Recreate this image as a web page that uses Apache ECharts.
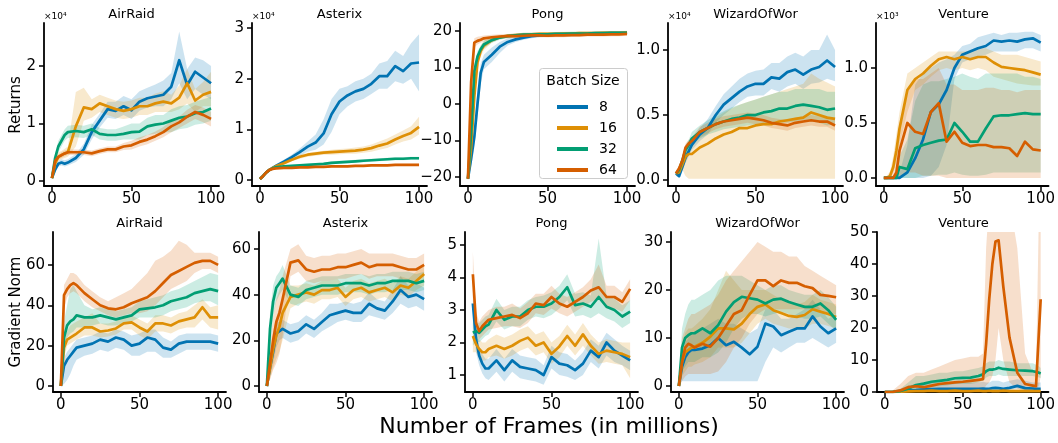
<!DOCTYPE html>
<html><head><meta charset="utf-8">
<script src="https://cdn.jsdelivr.net/npm/echarts@6/dist/echarts.min.js"></script>
<style>html,body{margin:0;padding:0;background:#fff}#c{width:1058px;height:443px}</style>
</head><body><div id="c"></div>
<script>
// ---------- shared x values (millions of frames) ----------
const X = [0,2,4,6,8,10,15,20,25,30,35,40,45,50,55,60,65,70,75,80,85,90,95,100];
const X_VENTURE_G = [0,5,10,15,20,25,30,35,40,45,50,55,60,63,65,67,69,71,73,76,80,85,90,95,97,99,100];
const BATCH = ['8','16','32','64'];
const X_TICKS = [0,50,100];

// ---------- Returns: AirRaid (x1e4) ----------
const R_AirRaid_8 = [0.05,0.2,0.3,0.32,0.3,0.32,0.4,0.55,0.85,1.05,1.25,1.22,1.3,1.23,1.38,1.44,1.47,1.5,1.64,2.1,1.67,1.9,1.8,1.7];
const R_AirRaid_8_lo = [0.03,0.15,0.25,0.27,0.25,0.27,0.33,0.45,0.72,0.93,1.1,1.08,1.15,1.08,1.22,1.28,1.3,1.3,1.42,1.7,1.42,1.6,1.5,1.42];
const R_AirRaid_8_hi = [0.07,0.25,0.35,0.38,0.36,0.38,0.47,0.65,0.98,1.17,1.38,1.38,1.48,1.42,1.56,1.62,1.68,1.75,1.88,2.6,1.95,2.15,2.1,2.0];
const R_AirRaid_16 = [0.05,0.3,0.42,0.45,0.48,0.5,0.95,1.28,1.25,1.35,1.3,1.25,1.22,1.25,1.3,1.3,1.35,1.38,1.35,1.45,1.7,1.4,1.5,1.55];
const R_AirRaid_16_lo = [0.03,0.2,0.35,0.38,0.4,0.42,0.6,1.05,1.1,1.2,1.15,1.1,1.08,1.1,1.15,1.15,1.2,1.2,1.2,1.25,1.35,1.2,1.3,1.3];
const R_AirRaid_16_hi = [0.07,0.4,0.5,0.52,0.56,0.6,1.55,1.62,1.42,1.5,1.45,1.4,1.38,1.4,1.45,1.45,1.52,1.56,1.5,1.66,1.95,1.6,1.72,1.9];
const R_AirRaid_32 = [0.05,0.4,0.6,0.7,0.8,0.85,0.87,0.85,0.9,0.82,0.8,0.8,0.82,0.85,0.86,0.95,0.98,1.0,1.05,1.1,1.12,1.18,1.2,1.26];
const R_AirRaid_32_lo = [0.03,0.32,0.5,0.6,0.7,0.75,0.76,0.75,0.8,0.72,0.7,0.7,0.72,0.72,0.72,0.8,0.82,0.85,0.85,0.9,0.92,0.98,1.0,1.05];
const R_AirRaid_32_hi = [0.07,0.48,0.7,0.8,0.9,0.96,0.98,0.96,1.0,0.92,0.9,0.9,0.95,1.0,1.0,1.1,1.15,1.15,1.25,1.3,1.32,1.38,1.42,1.46];
const R_AirRaid_64 = [0.05,0.35,0.42,0.45,0.48,0.5,0.5,0.5,0.48,0.52,0.55,0.55,0.6,0.62,0.68,0.72,0.78,0.85,0.95,1.02,1.12,1.2,1.15,1.08];
const R_AirRaid_64_lo = [0.03,0.3,0.38,0.4,0.43,0.45,0.45,0.45,0.43,0.47,0.5,0.5,0.54,0.55,0.6,0.64,0.7,0.76,0.85,0.92,1.0,1.08,1.02,0.95];
const R_AirRaid_64_hi = [0.07,0.4,0.46,0.5,0.53,0.55,0.55,0.55,0.53,0.57,0.6,0.6,0.66,0.7,0.76,0.8,0.86,0.94,1.05,1.12,1.24,1.32,1.28,1.2];

// ---------- Returns: Asterix (x1e4) ----------
const R_Asterix_8 = [0.02,0.08,0.15,0.2,0.24,0.28,0.36,0.45,0.55,0.66,0.74,0.92,1.3,1.55,1.67,1.75,1.8,1.9,2.05,2.05,2.25,2.15,2.3,2.32];
const R_Asterix_8_lo = [0.01,0.06,0.12,0.17,0.21,0.25,0.32,0.4,0.48,0.56,0.6,0.7,0.95,1.3,1.45,1.55,1.6,1.7,1.8,1.8,1.95,1.9,2.0,1.75];
const R_Asterix_8_hi = [0.03,0.1,0.18,0.23,0.27,0.31,0.4,0.5,0.62,0.76,0.9,1.2,1.6,1.8,1.85,1.95,2.0,2.1,2.3,2.35,2.55,2.45,2.7,2.88];
const R_Asterix_16 = [0.02,0.08,0.15,0.2,0.24,0.27,0.33,0.4,0.46,0.5,0.52,0.54,0.55,0.56,0.57,0.58,0.6,0.63,0.68,0.72,0.8,0.87,0.93,1.05];
const R_Asterix_16_lo = [0.01,0.06,0.13,0.18,0.22,0.25,0.3,0.37,0.42,0.46,0.48,0.5,0.5,0.51,0.52,0.52,0.54,0.56,0.6,0.63,0.7,0.76,0.8,0.9];
const R_Asterix_16_hi = [0.03,0.1,0.17,0.22,0.26,0.29,0.36,0.43,0.5,0.54,0.56,0.58,0.6,0.61,0.62,0.64,0.66,0.7,0.76,0.82,0.9,0.98,1.06,1.25];
const R_Asterix_32 = [0.02,0.08,0.15,0.2,0.23,0.25,0.27,0.28,0.29,0.3,0.31,0.32,0.34,0.35,0.36,0.37,0.38,0.39,0.4,0.41,0.42,0.42,0.43,0.43];
const R_Asterix_32_lo = [0.01,0.07,0.13,0.18,0.21,0.23,0.25,0.26,0.27,0.28,0.29,0.3,0.31,0.32,0.33,0.34,0.35,0.36,0.37,0.38,0.39,0.39,0.4,0.4];
const R_Asterix_32_hi = [0.03,0.09,0.17,0.22,0.25,0.27,0.29,0.3,0.31,0.32,0.33,0.34,0.37,0.38,0.39,0.4,0.41,0.42,0.43,0.44,0.45,0.45,0.46,0.46];
const R_Asterix_64 = [0.02,0.08,0.15,0.2,0.22,0.23,0.24,0.24,0.25,0.25,0.26,0.26,0.27,0.27,0.27,0.28,0.28,0.29,0.29,0.29,0.3,0.3,0.3,0.3];
const R_Asterix_64_lo = [0.01,0.07,0.13,0.18,0.2,0.21,0.22,0.22,0.23,0.23,0.24,0.24,0.25,0.25,0.25,0.26,0.26,0.27,0.27,0.27,0.28,0.28,0.28,0.28];
const R_Asterix_64_hi = [0.03,0.09,0.17,0.22,0.24,0.25,0.26,0.26,0.27,0.27,0.28,0.28,0.29,0.29,0.29,0.3,0.3,0.31,0.31,0.31,0.32,0.32,0.32,0.32];

// ---------- Returns: Pong ----------
const R_Pong_8 = [-20.5,-15,-9,0,8.5,11.5,13.5,15.7,17,17.7,18.2,18.6,18.8,18.9,19,19,19.1,19.2,19.2,19.3,19.3,19.4,19.4,19.5];
const R_Pong_8_lo = [-21,-17,-12,-4,5.5,9.5,11.5,14,16,17,17.6,18,18.3,18.4,18.5,18.5,18.6,18.7,18.7,18.8,18.8,18.9,18.9,19];
const R_Pong_8_hi = [-20,-13,-6,4,11,13.5,15.5,17,18,18.4,18.7,19.1,19.3,19.4,19.5,19.5,19.6,19.7,19.7,19.8,19.8,19.9,19.9,20];
const R_Pong_16 = [-20.5,-12,2,11.5,14.5,16,17.5,18.3,18.7,18.9,19,19.1,19.2,19.2,19.2,19.3,19.3,19.4,19.4,19.4,19.5,19.5,19.5,19.6];
const R_Pong_16_lo = [-21,-15,-2,9.5,13,14.8,16.8,17.8,18.2,18.4,18.5,18.6,18.7,18.7,18.7,18.8,18.8,18.9,18.9,18.9,19,19,19,19.1];
const R_Pong_16_hi = [-20,-9,6,13.5,16,17.2,18.2,18.8,19.2,19.4,19.5,19.6,19.7,19.7,19.7,19.8,19.8,19.9,19.9,19.9,20,20,20,20.1];
const R_Pong_32 = [-20.5,-8,9,13,15,16.3,17.5,18.2,18.6,18.8,19,19,19.1,19.1,19.2,19.2,19.3,19.3,19.3,19.4,19.4,19.5,19.5,19.5];
const R_Pong_32_lo = [-21,-11,7,11.5,14,15.3,16.8,17.6,18.1,18.3,18.5,18.5,18.6,18.6,18.7,18.7,18.8,18.8,18.8,18.9,18.9,19,19,19];
const R_Pong_32_hi = [-20,-5,11,14.5,16,17.3,18.2,18.8,19.1,19.3,19.5,19.5,19.6,19.6,19.7,19.7,19.8,19.8,19.8,19.9,19.9,20,20,20];
const R_Pong_64 = [-20.5,6,16.8,17.3,17.6,18,18.3,18.5,18.6,18.6,18.7,18.8,18.8,18.7,18.8,18.8,18.9,18.9,19,19,19,19.1,19.1,19.2];
const R_Pong_64_lo = [-21,2,15.5,16.3,16.8,17.2,17.6,17.9,18,18.1,18.2,18.3,18.3,18.2,18.3,18.3,18.4,18.4,18.5,18.5,18.5,18.6,18.6,18.7];
const R_Pong_64_hi = [-20,10,18,18.4,18.6,18.8,19,19.1,19.2,19.2,19.3,19.3,19.3,19.2,19.3,19.3,19.4,19.4,19.5,19.5,19.5,19.6,19.6,19.7];

// ---------- Returns: WizardOfWor (x1e4) ----------
const R_Wizard_8 = [0.05,0.03,0.1,0.17,0.22,0.27,0.35,0.4,0.5,0.58,0.63,0.68,0.72,0.74,0.74,0.79,0.78,0.83,0.85,0.81,0.85,0.87,0.92,0.87];
const R_Wizard_8_lo = [0.03,0.02,0.07,0.13,0.18,0.23,0.3,0.35,0.44,0.5,0.55,0.6,0.64,0.65,0.65,0.7,0.68,0.72,0.74,0.7,0.74,0.75,0.78,0.76];
const R_Wizard_8_hi = [0.07,0.05,0.13,0.21,0.26,0.31,0.4,0.47,0.57,0.66,0.72,0.78,0.82,0.84,0.85,0.9,0.9,0.95,0.98,0.95,1.0,1.0,1.12,1.0];
const R_Wizard_16 = [0.05,0.06,0.12,0.18,0.2,0.2,0.25,0.28,0.32,0.35,0.37,0.4,0.4,0.42,0.43,0.43,0.45,0.46,0.47,0.48,0.52,0.5,0.48,0.47];
const R_Wizard_16_lo = [0.04,0.04,0.08,0.03,0.01,0.01,0.01,0.01,0.01,0.01,0.01,0.01,0.01,0.01,0.01,0.01,0.01,0.01,0.01,0.01,0.01,0.01,0.01,0.01];
const R_Wizard_16_hi = [0.06,0.08,0.16,0.26,0.3,0.32,0.38,0.42,0.48,0.52,0.55,0.58,0.6,0.62,0.64,0.66,0.68,0.7,0.72,0.74,0.82,0.78,0.75,0.72];
const R_Wizard_32 = [0.05,0.08,0.15,0.23,0.27,0.32,0.37,0.4,0.43,0.45,0.47,0.48,0.5,0.5,0.52,0.53,0.55,0.55,0.57,0.58,0.57,0.56,0.54,0.55];
const R_Wizard_32_lo = [0.04,0.06,0.12,0.19,0.23,0.27,0.32,0.35,0.37,0.39,0.4,0.41,0.42,0.42,0.43,0.43,0.44,0.44,0.45,0.46,0.45,0.44,0.42,0.43];
const R_Wizard_32_hi = [0.06,0.1,0.18,0.27,0.31,0.37,0.42,0.46,0.5,0.53,0.56,0.58,0.6,0.62,0.64,0.66,0.68,0.68,0.7,0.7,0.7,0.7,0.68,0.68];
const R_Wizard_64 = [0.05,0.09,0.15,0.25,0.28,0.3,0.37,0.4,0.43,0.45,0.46,0.47,0.48,0.47,0.46,0.44,0.43,0.42,0.44,0.45,0.46,0.45,0.45,0.42];
const R_Wizard_64_lo = [0.04,0.07,0.12,0.22,0.25,0.27,0.33,0.36,0.39,0.41,0.42,0.43,0.44,0.43,0.42,0.4,0.39,0.38,0.4,0.41,0.42,0.41,0.41,0.38];
const R_Wizard_64_hi = [0.06,0.11,0.18,0.28,0.31,0.33,0.41,0.44,0.47,0.49,0.5,0.51,0.52,0.51,0.5,0.48,0.47,0.46,0.48,0.49,0.5,0.49,0.49,0.46];

// ---------- Returns: Venture (x1e3) ----------
const R_Venture_8 = [0,0,0,0,0,0,0.05,0.18,0.35,0.6,0.67,0.8,1.0,1.12,1.15,1.18,1.2,1.25,1.24,1.25,1.24,1.26,1.27,1.23];
const R_Venture_8_lo = [0,0,0,0,0,0,0,0,0,0.02,0.1,0.3,0.9,1.05,1.08,1.1,1.12,1.15,1.15,1.15,1.15,1.18,1.18,1.15];
const R_Venture_8_hi = [0,0,0,0,0.02,0.05,0.3,0.85,0.95,1.0,1.05,1.08,1.12,1.2,1.22,1.28,1.3,1.32,1.3,1.32,1.32,1.33,1.33,1.3];
const R_Venture_16 = [0,0,0.02,0.1,0.25,0.45,0.8,0.9,0.95,1.02,1.08,1.1,1.08,1.1,1.08,1.1,1.1,1.05,1.01,1.0,0.99,0.98,0.96,0.94];
const R_Venture_16_lo = [0,0,0,0.05,0.15,0.3,0.6,0.8,0.85,0.92,0.98,1.0,0.98,1.0,0.98,1.0,0.98,0.92,0.9,0.88,0.86,0.85,0.84,0.84];
const R_Venture_16_hi = [0,0.02,0.06,0.2,0.4,0.6,0.95,1.0,1.05,1.1,1.15,1.15,1.15,1.15,1.15,1.18,1.18,1.15,1.12,1.12,1.12,1.1,1.08,1.06];
const R_Venture_32 = [0,0,0,0,0,0.1,0.08,0.27,0.3,0.32,0.34,0.35,0.5,0.42,0.33,0.33,0.45,0.56,0.57,0.57,0.58,0.59,0.58,0.58];
const R_Venture_32_lo = [0,0,0,0,0,0,0,0,0.02,0.02,0.03,0.03,0.05,0.03,0.02,0.02,0.03,0.05,0.05,0.05,0.05,0.05,0.05,0.05];
const R_Venture_32_hi = [0,0,0,0.02,0.05,0.2,0.35,0.7,0.85,0.88,0.88,0.9,0.92,0.95,0.92,0.9,0.95,0.95,0.95,0.95,0.95,0.92,0.92,0.9];
const R_Venture_64 = [0,0,0,0,0.05,0.25,0.5,0.42,0.4,0.6,0.68,0.33,0.42,0.32,0.29,0.3,0.3,0.28,0.28,0.27,0.2,0.33,0.26,0.25];
const R_Venture_64_lo = [0,0,0,0,0,0,0.05,0.05,0.02,0.02,0.02,0,0,0,0,0,0,0,0,0,0,0,0,0];
const R_Venture_64_hi = [0,0,0.02,0.1,0.3,0.5,0.8,0.9,0.9,0.95,1.0,0.85,0.85,0.8,0.8,0.8,0.82,0.82,0.8,0.8,0.78,0.8,0.8,0.8];

// ---------- Gradient Norm: AirRaid ----------
const G_AirRaid_8 = [0,10,13,15,17,19,20,21,23,22,24,23,20,21,24,23,19,18,21,22,22,22,22,21];
const G_AirRaid_8_lo = [0,1,3,6,10,13,15,16,18,17,19,18,15,15,17,17,14,14,16,18,18,18,18,17];
const G_AirRaid_8_hi = [0,14,17,19,21,23,24,25,27,26,28,27,25,26,28,28,24,22,25,26,26,26,26,25];
const G_AirRaid_16 = [0,19,23,24,25,26,29,29,27,27.5,28.5,31,31.5,29,27,31,31,30,32,33,34,39,34,34];
const G_AirRaid_16_lo = [0,14,20,21,22,23,25,25,24,24.5,25.5,28,28,25,23,27,27,26,28,29,29,33,29,28];
const G_AirRaid_16_hi = [0,24,27,30,31,32,34,36,31,31,32,35,35,33,31,35,35,34,36,37,40,43,39,40];
const G_AirRaid_32 = [0,24,30,32,33,35,34,34,35,34,33,34,35,38,38.5,39,40,42,43,44,46,47,48,47];
const G_AirRaid_32_lo = [0,18,24,26,27,29,29,30,31,30,30,31,32,34,34,34,35,37,38,39,41,42,42,40];
const G_AirRaid_32_hi = [0,32,40,48,50,47,40,38,39,38,37,38,39,42,43,44,45,47,48,50,52,54,56,55];
const G_AirRaid_64 = [0,45,48,50,51,50,46,43,40,38.5,38,39,41,42.5,44,47,51,55,57,59,61,62,62,60];
const G_AirRaid_64_lo = [0,38,44,46,47,46,42,39,37,35,34,35,36,36,37,40,44,48,50,52,56,58,58,56];
const G_AirRaid_64_hi = [0,50,53,56,56,55,50,47,44,42,44,46,48,52,56,62,64,67,72,70,66,66,66,64];

// ---------- Gradient Norm: Asterix ----------
const G_Asterix_8 = [0,8,15,23,24,25,23,24,27,25,28,31,32,33,32,32,36,34,33,37,42,39,40,38];
const G_Asterix_8_lo = [0,4,10,17,20,21,19,20,23,21,24,26,28,29,28,28,31,30,29,32,36,34,35,33];
const G_Asterix_8_hi = [0,12,20,28,28,29,27,28,31,29,32,36,36,37,36,37,41,38,37,42,48,44,45,43];
const G_Asterix_16 = [0,8,16,22,26,32,39,40,41,40,42,42,43,39,42,43,41,42,43,41,44,43,46,49];
const G_Asterix_16_lo = [0,3,8,12,15,20,34,36,37,36,38,38,39,35,38,39,37,38,39,37,40,39,42,44];
const G_Asterix_16_hi = [0,14,24,30,34,40,44,44,45,44,46,46,47,43,46,47,45,46,47,45,48,47,50,54];
const G_Asterix_32 = [0,25,37,43,45,47,40,39,42,43,44,44,44,45,45,45,44,45,45,46,46,46,45,46];
const G_Asterix_32_lo = [0,18,30,37,40,42,36,35,38,39,40,40,40,41,41,41,40,41,41,42,42,42,41,42];
const G_Asterix_32_hi = [0,32,44,48,50,53,44,43,46,47,48,48,48,49,49,49,48,49,49,50,50,50,49,50];
const G_Asterix_64 = [0,10,20,28,32,38,54,55,51,50,51,51,52,52,53,54,52,53,53,53,52,51,51,53];
const G_Asterix_64_lo = [0,3,7,10,14,22,48,50,46,45,46,46,47,47,48,49,47,48,48,48,47,46,46,48];
const G_Asterix_64_hi = [0,18,30,38,42,48,60,62,57,56,57,57,58,58,59,60,58,58,58,58,57,56,56,58];

// ---------- Gradient Norm: Pong ----------
const G_Pong_8 = [3.2,2.1,1.6,1.35,1.2,1.2,1.45,1.15,1.45,1.25,1.2,1.15,1.0,1.55,1.35,1.3,1.15,1.35,1.75,1.55,2.0,1.75,1.6,1.45];
const G_Pong_8_lo = [2.7,1.7,1.3,1.05,0.9,0.85,1.1,0.8,1.1,0.9,0.85,0.8,0.7,1.2,1.0,0.95,0.85,1.0,1.4,1.2,1.6,1.4,1.3,1.15];
const G_Pong_8_hi = [3.5,2.5,1.9,1.65,1.5,1.5,1.8,1.5,1.8,1.6,1.55,1.5,1.3,1.9,1.7,1.65,1.45,1.7,2.1,1.9,2.3,2.1,1.9,1.75];
const G_Pong_16 = [2.2,1.95,1.8,1.7,1.7,1.8,1.9,1.8,1.9,2.05,2.15,1.9,2.0,1.65,1.88,2.2,1.9,2.25,1.9,1.65,1.75,1.7,1.65,1.55];
const G_Pong_16_lo = [1.7,1.7,1.55,1.45,1.45,1.55,1.6,1.5,1.6,1.75,1.85,1.6,1.7,1.35,1.55,1.9,1.6,1.9,1.6,1.35,1.4,1.35,1.3,0.9];
const G_Pong_16_hi = [2.6,2.25,2.1,2.0,2.0,2.1,2.25,2.15,2.25,2.4,2.5,2.25,2.35,2.0,2.2,2.55,2.25,2.6,2.25,2.0,2.1,2.05,2.0,2.0];
const G_Pong_32 = [2.3,2.35,2.3,2.4,2.5,2.55,3.0,2.7,2.8,2.8,3.0,3.1,3.1,3.2,3.4,3.7,3.15,3.2,3.1,3.4,3.1,3.0,2.8,2.95];
const G_Pong_32_lo = [1.9,2.05,2.0,2.1,2.2,2.25,2.65,2.4,2.5,2.5,2.7,2.8,2.75,2.85,3.05,3.3,2.8,2.85,2.75,2.9,2.75,2.65,2.45,2.6];
const G_Pong_32_hi = [2.7,2.65,2.6,2.7,2.8,2.85,3.35,3.0,3.1,3.1,3.3,3.4,3.45,3.55,3.75,4.1,3.5,3.55,3.45,5.2,3.45,3.35,3.15,3.3];
const G_Pong_64 = [4.1,2.6,2.35,2.5,2.6,2.7,2.75,2.8,2.85,2.75,2.9,3.2,3.15,3.4,3.2,3.1,3.25,3.4,3.6,3.7,3.4,3.4,3.25,3.65];
const G_Pong_64_lo = [3.4,2.3,2.1,2.2,2.3,2.4,2.45,2.5,2.5,2.45,2.6,2.9,2.85,3.05,2.9,2.8,2.95,3.1,3.25,3.35,3.05,3.05,2.95,3.3];
const G_Pong_64_hi = [4.8,2.95,2.65,2.8,2.9,3.0,3.1,3.1,3.2,3.05,3.25,3.5,3.5,3.75,3.5,3.4,3.55,3.7,3.95,4.4,3.75,3.75,3.55,3.95];

// ---------- Gradient Norm: WizardOfWor ----------
const G_Wizard_8 = [0,4,6,7,7.5,7.5,7.8,8.5,10,8.5,9.2,8,6.6,8.2,13,12.4,10.6,11.3,12,12,14.5,12.4,11,12];
const G_Wizard_8_lo = [0,1,1,1,1,1,1,1,1,1,1,1,1,1,5,8,7,8,9,9,10,9,8,9];
const G_Wizard_8_hi = [0,6,9,10,11,11,12,13,14,13,13,12,11,12,16,16,14,14,15,16,18,16,14,15];
const G_Wizard_16 = [0,5,7,7.5,8,8.2,9,10.3,12,12,11.8,13,15,16.5,17,15.8,15.2,14.6,14.4,14.8,16,15.5,15,14.4];
const G_Wizard_16_lo = [0,2,3,4,4,4.5,5,6,8,8,8,9,11,13,14,13,12.5,12,12,12,13,13,12.5,12];
const G_Wizard_16_hi = [0,8,11,12,12,12.5,14,16,20,24,22,20,20,20,20,19,18,17.5,17,17.5,19,18,17.5,17];
const G_Wizard_32 = [0,8,10,10.6,11,11,12,11,12.7,15.5,17.5,18.6,18.3,18,17.2,18,18.2,17.5,17,16.5,16.5,17.2,15.8,13.8];
const G_Wizard_32_lo = [0,3,4,5,5,5,6,6,7,9,12,14,15,15,14.5,15,15.5,15,14.5,14,14,14.5,13,11.5];
const G_Wizard_32_hi = [0,12,15,17,18,18,19,20,22,23,23,23,22,21,20,21,21,20,19.5,19,19,20,18.5,16.5];
const G_Wizard_64 = [0,5,8,8.8,8.5,8,8.8,8.2,10,12.5,15,15.8,19,22,22,20.8,22,21.5,21.5,20.8,20.4,19,18.8,18.5];
const G_Wizard_64_lo = [0,1,2,2.5,2.5,2.5,2.5,2.5,3,5,8,10,13,15,16,16,16,16,16,16,16,16,15,15];
const G_Wizard_64_hi = [0,10,12,14,15,15,16,17,19,22,24,26,28,30,29,28,28,27,27,25,24,23,22,21];

// ---------- Gradient Norm: Venture (uses X_VENTURE_G) ----------
const G_Venture_8 = [0,0,0.2,0.5,0.6,0.8,0.9,1,1,1,1,1,1,1.1,1,1,1.2,1.3,1.2,1,1.3,1.9,1.2,1.1,1,1,1];
const G_Venture_8_lo = [0,0,0,0.1,0.2,0.3,0.4,0.5,0.5,0.5,0.5,0.5,0.5,0.5,0.5,0.5,0.6,0.7,0.6,0.5,0.7,1,0.6,0.5,0.5,0.5,0.5];
const G_Venture_8_hi = [0,0.5,1,2,2.5,3,3,3,3,3,3,3,3,3.2,3,3,3.5,3.5,3.5,3,3.5,4,3.5,3,3,3,3];
const G_Venture_16 = [0,0,0.1,0.2,0.3,0.3,0.4,0.3,0.3,0.4,0.3,0.3,0.4,0.3,0.3,0.4,0.3,0.3,0.3,0.4,0.3,0.3,0.3,0.3,0.3,0.3,0.3];
const G_Venture_16_lo = [0,0,0,0,0,0,0,0,0,0,0,0,0,0,0,0,0,0,0,0,0,0,0,0,0,0,0];
const G_Venture_16_hi = [0,0.2,0.5,1,1,1,1.2,1,1,1.2,1,1,1.2,1,1,1.2,1,1,1,1.2,1,1,1,1,1,1,1];
const G_Venture_32 = [0,0,0.3,1,2.2,2.6,3.2,3.5,3.8,4.3,4.4,4.5,5,5.5,6.5,7,7,7.2,7.6,7.2,7,6.8,6.7,6.5,6.3,6,5.8];
const G_Venture_32_lo = [0,0,0,0.2,0.8,1,1.5,1.8,2,2.5,2.5,2.5,3,3.5,4.5,5,5,5,5.5,5,5,5,5,5,4.8,4.5,4.3];
const G_Venture_32_hi = [0,0,1,3,5,5,5.5,6,6,6.5,6.5,7,7.5,8,9,9.5,9.5,9.5,10,9.5,9.5,9,9,9,8.5,8,7.5];
const G_Venture_64 = [0,0,0.5,1.5,1.8,1.5,2,2.5,2.8,3,3.2,3.5,3.8,4,15,29,40,47,47.4,33,17,6,2.5,2,1.8,20,29];
const G_Venture_64_lo = [0,0,0,0.5,0.5,0.5,0.5,0.5,0.5,0.5,0.5,0.5,0.5,0.5,2,3,5,10,20,10,3,1,0.5,0.5,0.5,2,5];
const G_Venture_64_hi = [0,0.5,2.5,5,6,6,7,8,9,10,10.5,11,11,12,45,60,65,65,65,65,60,45,12,6,6,60,60];

// ---------- y tick values ----------
const YT_R_AirRaid = [0,1,2];
const YT_R_Asterix = [0,1,2,3];
const YT_R_Pong = [-20,-10,0,10,20];
const YT_R_Wizard = [0,0.5,1.0];
const YT_R_Venture = [0,0.5,1.0];
const YT_G_AirRaid = [0,20,40,60];
const YT_G_Asterix = [0,20,40,60];
const YT_G_Pong = [1,2,3,4,5];
const YT_G_Wizard = [0,10,20,30];
const YT_G_Venture = [0,10,20,30,40,50];

// ---------- styling / layout ----------
const COLORS = {'8':'#0173b2','16':'#de8f05','32':'#029e73','64':'#d55e00'};
const BAND_COLORS = {'8':'rgba(1,115,178,0.2)','16':'rgba(222,143,5,0.2)','32':'rgba(2,158,115,0.2)','64':'rgba(213,94,0,0.2)'};
const FONT = 'DejaVu Sans';
const ROWS = [
  {top:23, height:163, width:175, lefts:[44,252,460,668,876], titleY:15},
  {top:232, height:160, width:173, lefts:[53,259,465,671,877], titleY:224}
];

const panels = [
  {row:0,col:0,title:'AirRaid',xs:X,s:[[R_AirRaid_8,R_AirRaid_8_lo,R_AirRaid_8_hi],[R_AirRaid_16,R_AirRaid_16_lo,R_AirRaid_16_hi],[R_AirRaid_32,R_AirRaid_32_lo,R_AirRaid_32_hi],[R_AirRaid_64,R_AirRaid_64_lo,R_AirRaid_64_hi]],yMin:-0.087,yMax:2.748,ticks:YT_R_AirRaid,dec:0,exp:'×10⁴'},
  {row:0,col:1,title:'Asterix',xs:X,s:[[R_Asterix_8,R_Asterix_8_lo,R_Asterix_8_hi],[R_Asterix_16,R_Asterix_16_lo,R_Asterix_16_hi],[R_Asterix_32,R_Asterix_32_lo,R_Asterix_32_hi],[R_Asterix_64,R_Asterix_64_lo,R_Asterix_64_hi]],yMin:-0.118,yMax:3.10,ticks:YT_R_Asterix,dec:0,exp:'×10⁴'},
  {row:0,col:2,title:'Pong',xs:X,s:[[R_Pong_8,R_Pong_8_lo,R_Pong_8_hi],[R_Pong_16,R_Pong_16_lo,R_Pong_16_hi],[R_Pong_32,R_Pong_32_lo,R_Pong_32_hi],[R_Pong_64,R_Pong_64_lo,R_Pong_64_hi]],yMin:-22.5,yMax:22.2,ticks:YT_R_Pong,dec:0,exp:''},
  {row:0,col:3,title:'WizardOfWor',xs:X,s:[[R_Wizard_8,R_Wizard_8_lo,R_Wizard_8_hi],[R_Wizard_16,R_Wizard_16_lo,R_Wizard_16_hi],[R_Wizard_32,R_Wizard_32_lo,R_Wizard_32_hi],[R_Wizard_64,R_Wizard_64_lo,R_Wizard_64_hi]],yMin:-0.046,yMax:1.208,ticks:YT_R_Wizard,dec:1,exp:'×10⁴'},
  {row:0,col:4,title:'Venture',xs:X,s:[[R_Venture_8,R_Venture_8_lo,R_Venture_8_hi],[R_Venture_16,R_Venture_16_lo,R_Venture_16_hi],[R_Venture_32,R_Venture_32_lo,R_Venture_32_hi],[R_Venture_64,R_Venture_64_lo,R_Venture_64_hi]],yMin:-0.073,yMax:1.409,ticks:YT_R_Venture,dec:1,exp:'×10³'},
  {row:1,col:0,title:'AirRaid',xs:X,s:[[G_AirRaid_8,G_AirRaid_8_lo,G_AirRaid_8_hi],[G_AirRaid_16,G_AirRaid_16_lo,G_AirRaid_16_hi],[G_AirRaid_32,G_AirRaid_32_lo,G_AirRaid_32_hi],[G_AirRaid_64,G_AirRaid_64_lo,G_AirRaid_64_hi]],yMin:-2.97,yMax:76.3,ticks:YT_G_AirRaid,dec:0,exp:''},
  {row:1,col:1,title:'Asterix',xs:X,s:[[G_Asterix_8,G_Asterix_8_lo,G_Asterix_8_hi],[G_Asterix_16,G_Asterix_16_lo,G_Asterix_16_hi],[G_Asterix_32,G_Asterix_32_lo,G_Asterix_32_hi],[G_Asterix_64,G_Asterix_64_lo,G_Asterix_64_hi]],yMin:-2.6,yMax:67.4,ticks:YT_G_Asterix,dec:0,exp:''},
  {row:1,col:2,title:'Pong',xs:X,s:[[G_Pong_8,G_Pong_8_lo,G_Pong_8_hi],[G_Pong_16,G_Pong_16_lo,G_Pong_16_hi],[G_Pong_32,G_Pong_32_lo,G_Pong_32_hi],[G_Pong_64,G_Pong_64_lo,G_Pong_64_hi]],yMin:0.477,yMax:5.4,ticks:YT_G_Pong,dec:0,exp:''},
  {row:1,col:3,title:'WizardOfWor',xs:X,s:[[G_Wizard_8,G_Wizard_8_lo,G_Wizard_8_hi],[G_Wizard_16,G_Wizard_16_lo,G_Wizard_16_hi],[G_Wizard_32,G_Wizard_32_lo,G_Wizard_32_hi],[G_Wizard_64,G_Wizard_64_lo,G_Wizard_64_hi]],yMin:-1.25,yMax:32.1,ticks:YT_G_Wizard,dec:0,exp:''},
  {row:1,col:4,title:'Venture',xs:X_VENTURE_G,s:[[G_Venture_8,G_Venture_8_lo,G_Venture_8_hi],[G_Venture_16,G_Venture_16_lo,G_Venture_16_hi],[G_Venture_32,G_Venture_32_lo,G_Venture_32_hi],[G_Venture_64,G_Venture_64_lo,G_Venture_64_hi]],yMin:0,yMax:50,ticks:YT_G_Venture,dec:0,exp:''}
];

function fmt(v, dec) {
  let s = Number(v).toFixed(dec);
  return s.replace('-', '\u2212');
}

const grid = [], xAxis = [], yAxis = [], series = [], graphic = [];
const axisLineStyle = {color:'#000', width:1.8};
const TICK_FONT = 15;
panels.forEach((p, gi) => {
  const R = ROWS[p.row];
  const left = R.lefts[p.col];
  grid.push({left:left, top:R.top, width:R.width, height:R.height, containLabel:false});
  xAxis.push({type:'value', gridIndex:gi, min:-5, max:105,
    axisLine:{show:true, onZero:false, lineStyle:axisLineStyle},
    axisTick:{show:true, length:5, lineStyle:{color:'#000', width:1.5}, customValues:X_TICKS},
    axisLabel:{customValues:X_TICKS, fontSize:TICK_FONT, color:'#000', fontFamily:FONT, margin:6, formatter:v=>fmt(v,0)},
    splitLine:{show:false}});
  yAxis.push({type:'value', gridIndex:gi, min:p.yMin, max:p.yMax,
    axisLine:{show:true, onZero:false, lineStyle:axisLineStyle},
    axisTick:{show:true, length:5, lineStyle:{color:'#000', width:1.5}, customValues:p.ticks},
    axisLabel:{customValues:p.ticks, fontSize:TICK_FONT, color:'#000', fontFamily:FONT, margin:8, formatter:v=>fmt(v,p.dec)},
    splitLine:{show:false}});
  // bands
  p.s.forEach((trip, k) => {
    const name = BATCH[k];
    const xs = p.xs, lo = trip[1], hi = trip[2];
    series.push({type:'custom', name:'band'+name+'_'+gi, xAxisIndex:gi, yAxisIndex:gi, clip:true, silent:true, z:1,
      dimensions:['x','lo','hi'], encode:{x:0, y:[1,2]},
      data: xs.map((x,i)=>[x, lo[i], hi[i]]),
      renderItem: function(params, api) {
        if (params.dataIndex !== 0) return null;
        const up = xs.map((x,i)=>api.coord([x, hi[i]]));
        const dn = xs.map((x,i)=>api.coord([x, lo[i]])).reverse();
        const cs = params.coordSys;
        return {type:'polygon', shape:{points: up.concat(dn)},
          style:{fill: BAND_COLORS[name], stroke:null},
          clipPath:{type:'rect', shape:{x:cs.x, y:cs.y, width:cs.width, height:cs.height}}};
      }});
  });
  // lines
  p.s.forEach((trip, k) => {
    const name = BATCH[k];
    series.push({type:'line', name:name, xAxisIndex:gi, yAxisIndex:gi, symbol:'none', showSymbol:false, clip:true, z:3+k,
      data: p.xs.map((x,i)=>[x, trip[0][i]]),
      lineStyle:{width:2.7, color:COLORS[name], join:'round'}, itemStyle:{color:COLORS[name]}});
  });
  graphic.push({type:'text', x:left + R.width/2, y:R.titleY, style:{text:p.title, font:'13px "DejaVu Sans"', fill:'#000', textAlign:'center', textVerticalAlign:'middle'}});
  if (p.exp) graphic.push({type:'text', x:left, y:17, style:{text:p.exp, font:'9px "DejaVu Sans"', fill:'#000', textAlign:'left', textVerticalAlign:'middle'}});
});

graphic.push({type:'text', x:16, y:105, rotation:Math.PI/2, style:{text:'Returns', font:'15px "DejaVu Sans"', fill:'#000', textAlign:'center', textVerticalAlign:'middle'}});
graphic.push({type:'text', x:16, y:312, rotation:Math.PI/2, style:{text:'Gradient Norm', font:'15px "DejaVu Sans"', fill:'#000', textAlign:'center', textVerticalAlign:'middle'}});
graphic.push({type:'text', x:549, y:427, style:{text:'Number of Frames (in millions)', font:'22px "DejaVu Sans"', fill:'#000', textAlign:'center', textVerticalAlign:'middle'}});
// legend frame and title
graphic.push({type:'rect', z:10, shape:{x:539.5, y:68.5, width:88, height:110, r:3}, style:{fill:'rgba(255,255,255,0.85)', stroke:'#cccccc', lineWidth:1}});
graphic.push({type:'text', z:11, x:583, y:81, style:{text:'Batch Size', font:'14px "DejaVu Sans"', fill:'#000', textAlign:'center', textVerticalAlign:'middle'}});

const option = {
  animation:false,
  backgroundColor:'#fff',
  textStyle:{fontFamily:FONT},
  grid, xAxis, yAxis, series, graphic,
  legend:{data:BATCH, orient:'vertical', left:552, top:95, z:20, itemWidth:31, itemHeight:4, itemGap:7, icon:'rect',
    textStyle:{fontSize:14, color:'#000', fontFamily:FONT, lineHeight:14, padding:[0,0,0,6]}, selectedMode:false}
};
const chart = echarts.init(document.getElementById('c'), null, {renderer:'canvas'});
chart.setOption(option);
</script></body></html>
